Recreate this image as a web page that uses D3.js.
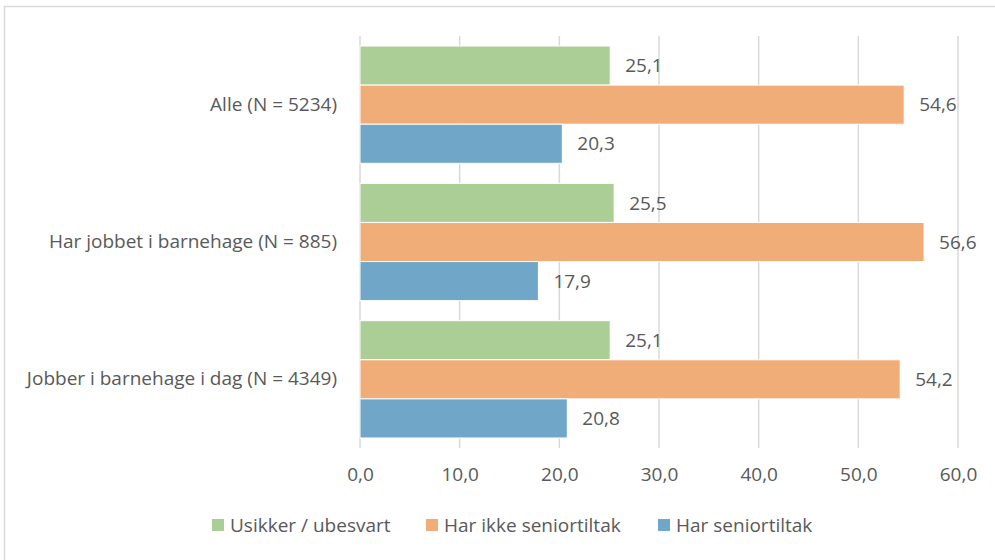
<!DOCTYPE html>
<html>
<head>
<meta charset="utf-8">
<script src="https://cdn.jsdelivr.net/npm/d3@7"></script>
<style>
  body { margin: 0; background: #fff; }
  text { font-family: "Open Sans", sans-serif; fill: #595959; }
</style>
</head>
<body>
<div id="chart"></div>
<script>
let width = 995;
let height = 560;
let margin = ({top: 36, right: 37, bottom: 112, left: 360});
let fontSize = 19;

// Data
let categories = ["Alle (N = 5234)", "Har jobbet i barnehage (N = 885)", "Jobber i barnehage i dag (N = 4349)"];
let seriesNames = ["Usikker / ubesvart", "Har ikke seniortiltak", "Har seniortiltak"];
let usikker = [25.1, 25.5, 25.1];
let harIkke = [54.6, 56.6, 54.2];
let harSenior = [20.3, 17.9, 20.8];
let ticks = [0, 10, 20, 30, 40, 50, 60];

let seriesValues = [usikker, harIkke, harSenior];

let colors = d3.scaleOrdinal()
    .domain(seriesNames)
    .range(["#abcd96", "#f1ad78", "#70a7c8"]);

let fmt = v => d3.format(".1f")(v).replace(".", ",");

let svg = d3.select("#chart")
    .append("svg")
    .attr("width", width)
    .attr("height", height);

// outer border
svg.append("rect")
    .attr("x", 4.5).attr("y", 6.5)
    .attr("width", width).attr("height", height)
    .attr("fill", "none")
    .attr("stroke", "#d9d9d9")
    .attr("stroke-width", 1.5);

let xScale = d3.scaleLinear()
    .domain([0, 60])
    .range([margin.left, width - margin.right]);

let yScale = d3.scaleBand()
    .domain(categories)
    .range([margin.top, height - margin.bottom])
    .paddingInner(0.146)
    .paddingOuter(0.073);

let ySub = d3.scaleBand()
    .domain(seriesNames)
    .range([0, yScale.bandwidth()]);

// gridlines
svg.append("g")
    .selectAll("line")
    .data(ticks)
    .join("line")
    .attr("x1", d => xScale(d)).attr("x2", d => xScale(d))
    .attr("y1", margin.top)
    .attr("y2", height - margin.bottom)
    .attr("stroke", "#d9d9d9")
    .attr("stroke-width", 1.5);

// x axis labels
let xAxis = d3.axisBottom(xScale)
    .tickValues(ticks)
    .tickFormat(fmt)
    .tickSize(0)
    .tickPadding(20);

svg.append("g")
    .attr("transform", "translate(0," + (height - margin.bottom) + ")")
    .call(xAxis)
    .call(g => g.select(".domain").remove())
    .selectAll("text")
    .attr("font-size", fontSize)
    .style("font-family", null);

// y axis labels
let yAxis = d3.axisLeft(yScale).tickSize(0).tickPadding(23);
svg.append("g")
    .attr("transform", "translate(" + margin.left + ",0)")
    .call(yAxis)
    .call(g => g.select(".domain").remove())
    .selectAll("text")
    .attr("font-size", fontSize)
    .style("font-family", null);

// bars
let rows = [];
categories.forEach((c, i) => {
    seriesNames.forEach((s, j) => {
        rows.push({cat: c, series: s, value: seriesValues[j][i]});
    });
});

let groups = svg.append("g");

groups.selectAll("rect")
    .data(rows)
    .join("rect")
    .attr("x", xScale(0))
    .attr("y", d => yScale(d.cat) + ySub(d.series))
    .attr("width", d => xScale(d.value) - xScale(0))
    .attr("height", ySub.bandwidth())
    .attr("fill", d => colors(d.series))
    .attr("stroke", "#fff")
    .attr("stroke-width", 1);

groups.selectAll("text")
    .data(rows)
    .join("text")
    .attr("x", d => xScale(d.value) + 15)
    .attr("y", d => yScale(d.cat) + ySub(d.series) + ySub.bandwidth() / 2)
    .attr("dy", "0.35em")
    .attr("font-size", fontSize)
    .text(d => fmt(d.value));

// legend
let legendX = [212, 426, 658];
let legend = svg.append("g")
    .selectAll("g")
    .data(seriesNames)
    .join("g")
    .attr("transform", (d, i) => "translate(" + legendX[i] + "," + 525 + ")");

legend.append("rect")
    .attr("x", 0).attr("y", -6)
    .attr("width", 12).attr("height", 12)
    .attr("fill", d => colors(d));

legend.append("text")
    .attr("x", 18)
    .attr("dy", "0.35em")
    .attr("font-size", fontSize)
    .text(d => d);
</script>
</body>
</html>
